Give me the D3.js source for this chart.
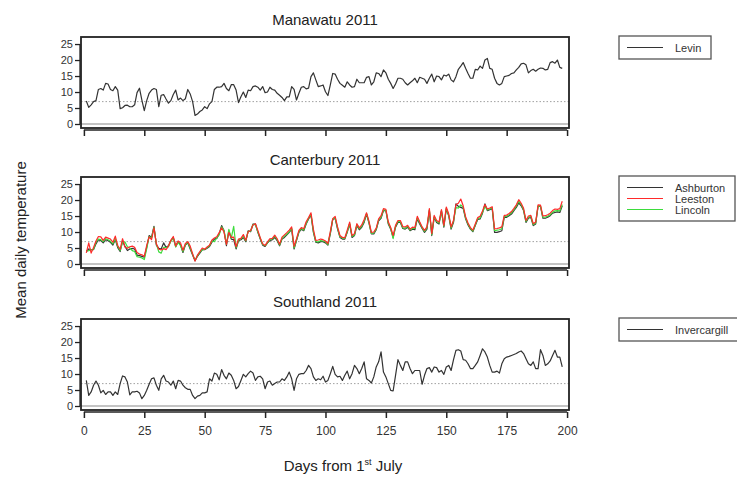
<!DOCTYPE html>
<html><head><meta charset="utf-8">
<script src="https://cdn.jsdelivr.net/npm/d3@7"></script>
<style>body{margin:0;background:#fff}svg{display:block;font-family:"Liberation Sans",Arial,sans-serif}</style>
</head><body><svg id="c" width="737" height="477"></svg>
<script>
const levin=[7.2,5.2,6,7,7.3,10.8,11.1,10.6,12.7,12.5,10.8,10.4,11.7,10.6,4.8,5.1,5.8,5.9,5.4,5.4,6,9.8,11.2,7.5,4.2,7.3,9.6,10.6,11.1,10.8,5.4,9,9.2,7.8,6.5,7.3,9.2,10.6,7.5,8.1,7.3,7.9,10.8,9.4,7,2.7,3.1,3.9,4.4,5.4,4.8,6.3,7,10.8,11.5,11.5,11.7,12.7,11.1,10.4,12.3,12.3,10.6,6.7,8.5,10,8.3,10.6,10.4,11.7,11.9,11.5,10.6,11.7,9.8,10,11.5,10.8,10.6,9.6,9,8.3,7.3,8.5,8.5,11.7,10.8,7.5,9.6,11.5,11.7,11,11.2,14.8,16,13.8,11.7,11.9,12.2,10.1,8.9,12.2,15.8,15.6,14,12.7,12.1,11.5,13.2,12.2,11.5,11.7,14,12.9,12.9,12.9,14.6,14.8,12.2,13.2,16,15.8,14.8,16.9,16,14,12.7,11.1,12.5,14.3,14.3,14,12.9,12.2,12.9,13.5,14.3,12.9,14.6,14.3,14,12.7,14.3,15.6,13.2,15,14.8,13.8,15.3,15,15.6,13.8,13.2,14.8,17.1,18.1,19.2,17.4,15.8,14.3,14.3,17.1,16.9,18.1,17.4,20,20.5,17.4,17.1,14.3,12.7,12.2,12.7,14.8,15,15.2,15.8,16,16.9,17.7,18.8,19,18.5,16,16.7,17.1,16.5,17.1,17.5,17.4,16.9,17.1,19.2,19.5,19,20,17.7,17.4];
const ashburton=[3.9,4.7,4.5,4.5,6.3,7.6,7.3,6.6,7.6,7.3,6.8,5.9,7.6,5.1,3.9,7.3,5.5,4.2,4.7,4.9,4.7,2.8,2.6,2.4,2.1,5.2,8.9,8.3,11.8,5.9,4.9,4.7,6.6,5.2,5.7,7.3,8.3,5.5,7,5.9,3.6,5.9,6.6,4.7,2.8,1,2.4,3.4,4.5,4.5,4.9,5.5,6.8,7.8,8,9.4,12,10.4,5.7,10.4,7.8,7.6,4.7,7.3,7.6,8.3,7,10.4,10.1,12.5,12.5,9.9,7.8,5.9,5.5,6.6,7.3,7.6,8.3,7.3,5.7,7.8,8.3,9.1,9.9,10.9,4.7,7.3,9.9,10.9,10.4,12.5,14.1,15.3,9.9,6.8,6.6,7,7,6.6,5.9,9.4,13.9,14.3,10.9,8.3,7.8,7.8,9.9,12.5,8.3,8.9,12,10.7,11.5,13,15.6,12.8,9.4,9.4,10.7,13.5,14.3,16.7,16.7,12.5,10.9,8.3,11.5,13,13,11.1,10.9,11.5,10.4,10.9,10.7,14.1,12.5,11.1,9.9,10.9,16.7,8.9,14.6,13,12.5,16.7,11.5,17.2,15.1,10.9,13,18.8,18,17.7,17.4,14.1,12.2,10.9,10.1,12,13.9,14.1,15.9,18.8,16.7,17,17.4,9.9,9.9,10.1,10.4,14.6,14.6,15.1,15.6,16.7,17.7,19.1,18.2,16.7,13,14.3,14.6,12,12.5,18,18,14.3,14.3,14.6,15.1,15.9,16.1,16.3,16.1,18.2];
const leeston=[3.5,6.6,3.4,5.2,7.2,8.6,8.5,7.4,8.4,8.1,7.8,6.8,8.7,5.8,4.6,7.9,5.3,4.9,5.4,5.6,5.2,3.6,3.1,2.9,2.4,5.8,8.5,7.6,11.3,6.3,4.6,4.4,4.8,4.5,5.6,7.4,8.6,5.6,7.2,6.6,4.3,6.4,7,5.6,3.2,0.9,2.8,3.9,5,4.6,5.3,5.9,7.5,8.1,8.5,9.8,11.3,10,6.1,9.9,8.3,8.4,5.4,7.8,8,9.2,7.4,10.1,10.5,12.2,12.6,10.5,8.2,6.3,5.8,6.9,7.9,8,9,7.9,6.2,8.4,9.1,9.8,10.6,11.6,5.5,7.9,10.5,11.4,11,13.2,14.5,16,10.8,7.4,7.5,7.8,7.6,7.2,6.4,10.1,14.2,14.9,11.6,8.9,8.3,8.2,10.6,13.1,8.9,9.5,12.6,11.3,12.2,13.9,16,13.4,9.9,10,11.2,14.1,15.1,17.3,17.1,13.2,11.4,8.9,12.1,13.6,13.6,11.7,11.6,12.1,10.9,11.5,11.4,14.9,13.2,11.6,10.5,11.6,17.3,9.5,15.2,13.6,13.1,17,12.1,17.8,15.7,11.6,13.7,18.6,19,20.3,18.2,14.8,12.8,11.4,10.6,12.5,14.5,14.9,16.6,18.6,17.2,17.5,17.9,11,11.1,11.3,11.6,15.2,15.3,15.8,16.4,17.4,18.5,20.1,19,17.4,13.6,15,15.2,12.6,13.1,18.5,18.4,15,15.1,15.4,15.9,16.7,17.2,17.1,17.3,19.6];
const lincoln=[4,4.2,4.4,4.6,6.8,7.8,7.6,7,7.9,7.6,7.1,6.3,7.9,5.5,4.2,6.8,6.9,5.4,5,4.2,3.9,2.3,2.1,1.9,1.4,4.8,8.6,8.1,11.5,6.2,3.8,3.4,5.2,5.1,5.4,7.1,8.1,5.3,6.8,5.7,3.9,6,6.9,5,3,1.2,2.5,3.7,4.4,4.6,5.1,5.7,7.2,7,8.2,9.1,11.6,10.5,6.2,10.8,8.1,11.8,5.1,7.4,7.9,8.6,7.2,10.2,10.3,12.4,12.3,10.1,8,6.1,5.7,6.7,7.5,7.8,8.7,7.6,5.9,8,8.7,9.4,10.1,11.2,5,7.5,10.1,11.1,10.6,12.7,14.3,15.5,10.2,7,6.9,7.3,7.2,6.9,6.1,9.7,14,14.5,11.2,8.5,8.1,8,10.1,12.6,8.6,9.1,12.3,11,11.8,13.4,15.8,13,9.6,9.7,10.9,13.8,14.6,16.9,16.8,12.8,11.1,7.9,11.8,13.3,13.2,11.3,11.2,11.8,10.6,11.2,11.1,14.4,12.9,11.3,10.2,11.3,16.9,9.2,14.8,13.3,12.8,16.5,11.8,17.4,15.3,11.2,13.4,17.6,17.5,18.5,17.7,14.4,12.5,11.1,10.3,12.2,14.2,14.4,16.2,17.9,16.9,17.2,17.6,10.4,10.6,10.7,11,14.9,14.9,15.4,16,17,18.1,19.6,18.6,17,13.3,14.6,14.9,12.3,12.8,18.2,18.1,14.6,14.7,14.9,15.4,16.2,16.6,16.7,16.6,18.6];
const invercargill=[8,3.3,4.4,6.5,7.8,6.5,4.1,4.9,3.6,4.4,4.4,3.3,4.4,3.6,7,9.4,9.1,7.5,3.5,4.4,4.4,4.6,4.1,2.3,3.3,4.9,6.8,8.5,8.8,6.5,4.9,8.5,9.6,7.8,7.5,6.5,7.8,5.4,8,7.8,6.5,5.7,5.2,5.2,3.3,2.3,3.1,3.3,4.1,4.1,4.4,8.5,7.8,10.3,9.9,8.2,11.4,9.6,8.5,10.3,9.6,8,5.4,6.1,8,9.9,9.1,10.1,10.9,10.3,8,9.1,9.3,8.5,5.4,7.5,7.8,6.5,7,7.5,7.5,8.5,8,9.1,10.6,8.5,4.9,8.5,9.9,10.1,10.1,11.1,12.7,11.7,9.1,8,8.5,8.2,9.3,7.5,8,10.1,12.4,9.9,9.1,9.3,8,9.6,10.9,8.5,10.1,12.7,11.7,10.1,11.7,13.8,8.5,8,7.2,9.1,12.2,13.8,16.9,10.6,9.1,7,4.9,4.7,9.6,14.5,12.7,11.1,13.8,13.8,11.7,10.1,11.1,11.1,11.1,6.8,9.6,11.7,12,10.6,12.2,12,10.6,11.1,9.9,12.2,12.7,11.1,14.5,17.4,17.6,17.2,14.5,14.3,13.2,11.7,11.7,12.7,13.8,15.8,17.9,16.9,15.3,12.7,10.6,10.6,10.9,10.3,13.2,14.8,15.3,15.5,15.8,16.1,16.4,16.9,17.2,16.4,14.8,13.2,12.7,13.8,11.7,11.7,17.6,15.8,12.7,13.2,14.1,15.8,17.4,15.3,15.3,12.2];
const xTicks=[0,25,50,75,100,125,150,175,200];
const yTicks=[0,5,10,15,20,25];
const panels=[
 {title:"Manawatu 2011",series:[{name:"Levin",values:levin,color:"#333333"}]},
 {title:"Canterbury 2011",series:[{name:"Ashburton",values:ashburton,color:"#333333"},{name:"Leeston",values:leeston,color:"#ff2a2a"},{name:"Lincoln",values:lincoln,color:"#3ddc3d"}]},
 {title:"Southland 2011",series:[{name:"Invercargill",values:invercargill,color:"#333333"}]}
];
const svg=d3.select("#c");
const L=81,R=569,H=91;
const tops=[37,177,319];
const legW=[92,116,130];
const x=d3.scaleLinear().domain([-1.2,200.8]).range([L,R]);
panels.forEach((p,i)=>{
  const t=tops[i];
  const y=d3.scaleLinear().domain([-1.25,27.2]).range([t+H,t]);
  const g=svg.append("g");
  g.append("line").attr("x1",L).attr("x2",R).attr("y1",y(0)).attr("y2",y(0)).attr("stroke","#c4c4c4").attr("stroke-width",2);
  g.append("line").attr("x1",L).attr("x2",R).attr("y1",y(7)).attr("y2",y(7)).attr("stroke","#a0a0a0").attr("stroke-width",1).attr("stroke-dasharray","1.5,2");
  const line=d3.line().x((d,k)=>x(k+1)).y(d=>y(d));
  const order=p.series.length>1?[0,2,1]:[0];
  order.forEach(si=>{const s=p.series[si];
    g.append("path").datum(s.values).attr("d",line).attr("fill","none").attr("stroke",s.color).attr("stroke-width",1.2).attr("stroke-linejoin","round");});
  g.append("rect").attr("x",L).attr("y",t).attr("width",R-L).attr("height",H).attr("fill","none").attr("stroke","#222").attr("stroke-width",1.8);
  const ya=g.append("g").attr("transform",`translate(${L-1},0)`).call(d3.axisLeft(y).tickValues(yTicks).tickSize(5).tickPadding(2));
  ya.select(".domain").attr("d",`M-0,${y(0)}V${y(25)}`).attr("stroke","#222").attr("stroke-width",1.3);
  ya.selectAll(".tick line").attr("stroke","#222").attr("stroke-width",1.3);
  ya.selectAll("text").attr("font-size",11).attr("fill","#333").attr("font-family","Liberation Sans, Arial, sans-serif");
  const xa=g.append("g").attr("transform",`translate(0,${t+H+2})`).call(d3.axisBottom(x).tickValues(xTicks).tickSize(6).tickPadding(8).tickFormat(i===2?d3.format("d"):""));
  xa.select(".domain").attr("d",`M${x(0)},0H${x(200)}`).attr("stroke","#222").attr("stroke-width",1.3);
  xa.selectAll(".tick line").attr("stroke","#222").attr("stroke-width",1.5);
  xa.selectAll("text").attr("font-size",12).attr("fill","#333").attr("font-family","Liberation Sans, Arial, sans-serif");
  g.append("text").attr("x",325).attr("y",t-12).attr("text-anchor","middle").attr("font-size",15).attr("fill","#222").text(p.title);
  // legend
  const lx=619,ly=t-1,lh=12+11*p.series.length;
  g.append("rect").attr("x",lx).attr("y",ly).attr("width",legW[i]).attr("height",lh).attr("fill","#fff").attr("stroke","#555").attr("stroke-width",1.3);
  p.series.forEach((s,k)=>{
    const yy=ly+11.5+11*k;
    g.append("line").attr("x1",627).attr("x2",663).attr("y1",yy).attr("y2",yy).attr("stroke",s.color).attr("stroke-width",1.2);
    g.append("text").attr("x",675).attr("y",yy+4).attr("font-size",11).attr("fill","#333").text(s.name);
  });
});
svg.append("text").attr("transform","translate(26,240) rotate(-90)").attr("text-anchor","middle").attr("font-size",15).attr("fill","#222").text("Mean daily temperature");
const xl=svg.append("text").attr("x",343).attr("y",471).attr("text-anchor","middle").attr("font-size",15).attr("fill","#222");
xl.append("tspan").text("Days from 1");
xl.append("tspan").attr("font-size",9).attr("dy",-6).text("st");
xl.append("tspan").attr("dy",6).text(" July");
</script></body></html>
